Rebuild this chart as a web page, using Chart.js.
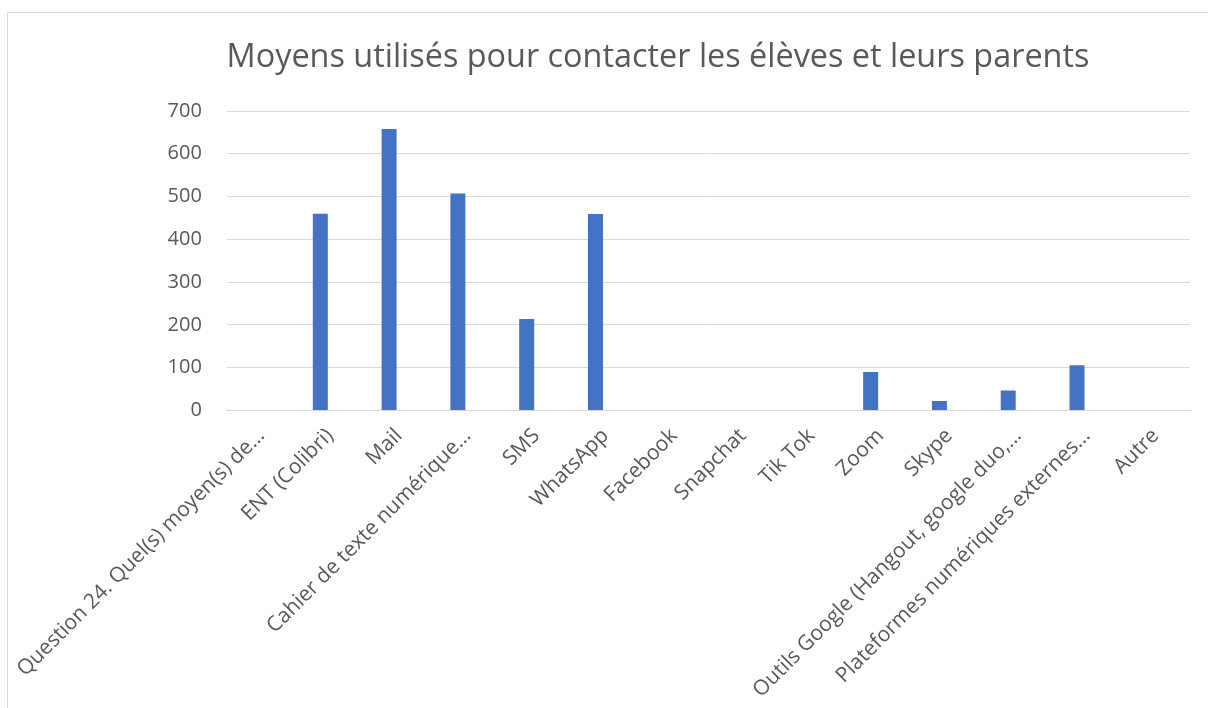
<!DOCTYPE html>
<html>
<head>
<meta charset="utf-8">
<script src="https://cdn.jsdelivr.net/npm/chart.js@4/dist/chart.umd.min.js"></script>
<style>
  html, body { margin: 0; padding: 0; background: #fff; overflow: hidden; }
  #wrap { position: relative; width: 1208px; height: 708px; }
  #frame { position: absolute; left: 7px; top: 12px; width: 1300px; height: 800px; border: 1px solid #d9d9d9; box-sizing: border-box; }
  canvas { position: absolute; left: 0; top: 0; }
</style>
</head>
<body>
<div id="wrap">
  <div id="frame"></div>
  <canvas id="c" width="1208" height="708"></canvas>
</div>
<script>
const chartTitle = "Moyens utilisés pour contacter les élèves et leurs parents";
const categories = [
  "Question 24. Quel(s) moyen(s) de…",
  "ENT (Colibri)",
  "Mail",
  "Cahier de texte numérique…",
  "SMS",
  "WhatsApp",
  "Facebook",
  "Snapchat",
  "Tik Tok",
  "Zoom",
  "Skype",
  "Outils Google (Hangout, google duo,…",
  "Plateformes numériques externes…",
  "Autre"
];
const seriesValues = [0, 460, 658, 507, 214, 459, 0, 0, 0, 90, 22, 47, 106, 0];
const emptySeries = [null, null, null, null, null, null, null, null, null, null, null, null, null, null];
const yMin = 0, yMax = 700, yStep = 100;

const FONT = "'Open Sans', 'Noto Sans', sans-serif";
const TEXT = "#595959";
const GRID = "#d9d9d9";
const BAR = "#4472C4";

const titlePlugin = {
  id: 'customTitle',
  afterDraw(chart) {
    const ctx = chart.ctx;
    ctx.save();
    ctx.font = "32.4px " + FONT;
    ctx.fillStyle = TEXT;
    ctx.textAlign = "center";
    ctx.textBaseline = "alphabetic";
    ctx.fillText(chartTitle, 658, 67);
    ctx.restore();
  }
};

new Chart(document.getElementById('c'), {
  type: 'bar',
  data: {
    labels: categories,
    datasets: [
      { data: seriesValues, backgroundColor: BAR, borderWidth: 0, categoryPercentage: 0.57, barPercentage: 0.765 },
      { data: emptySeries, backgroundColor: BAR, borderWidth: 0, categoryPercentage: 0.57, barPercentage: 0.765 }
    ]
  },
  options: {
    responsive: false,
    animation: false,
    layout: { padding: { top: 111, right: 18, bottom: -2, left: 29 } },
    plugins: {
      legend: { display: false },
      title: { display: false },
      tooltip: { enabled: false }
    },
    scales: {
      x: {
        afterFit(scale) { scale.paddingLeft += 4; },
        grid: { display: false, drawTicks: false },
        border: { display: true, color: GRID, width: 1 },
        ticks: {
          color: TEXT,
          font: { family: FONT, size: 21 },
          minRotation: 45,
          maxRotation: 45,
          autoSkip: false,
          padding: 13
        }
      },
      y: {
        min: yMin,
        max: yMax,
        grid: { color: GRID, lineWidth: 1, drawTicks: false },
        border: { display: false },
        ticks: {
          stepSize: yStep,
          color: TEXT,
          font: { family: FONT, size: 20 },
          padding: 25
        }
      }
    }
  },
  plugins: [titlePlugin]
});
</script>
</body>
</html>
